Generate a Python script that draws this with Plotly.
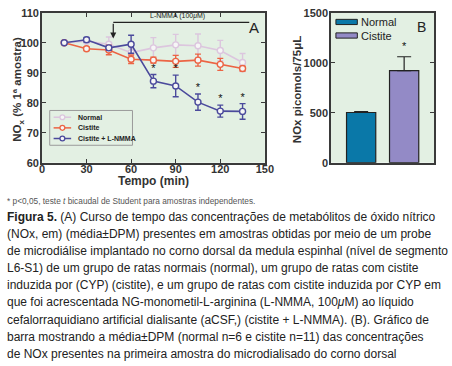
import plotly.graph_objects as go

W, H = 452, 366

# ---------------- data ----------------
tempo = [15, 30, 45, 60, 75, 90, 105, 120, 135]
normal = [100.0, 100.5, 99.5, 96.7, 98.3, 99.3, 99.0, 97.4, 93.4]
normal_err = [0, 0.5, 2.4, 1.5, 3.4, 3.5, 3.9, 3.4, 3.0]
cistite = [100.0, 98.0, 97.6, 94.5, 94.2, 93.8, 94.2, 92.8, 91.4]
cistite_err = [0, 0.6, 1.6, 1.4, 1.0, 2.0, 2.0, 2.0, 0.8]
lnmma = [100.0, 101.0, 98.3, 99.5, 87.2, 85.6, 80.2, 77.2, 77.1]
lnmma_err = [0, 0.8, 0.8, 3.0, 2.2, 3.6, 2.7, 2.0, 2.6]
sig_times = [75, 90, 105, 120, 135]

bar_groups = ["Normal", "Cistite"]
bar_values = [502, 922]
bar_err = [8, 138]

series_names = ["Normal", "Cistite", "Cistite + L-NMMA"]
series_colors = ["#dcc6de", "#ec6444", "#4b4a9c"]
bar_colors = ["#0a78a8", "#938ac6"]

footnote = "* p<0,05, teste <i>t</i> bicaudal de Student para amostras independentes."
caption_lines = [
    "<b>Figura 5.</b> (A) Curso de tempo das concentrações de metabólitos de óxido nítrico",
    "(NOx, em) (média±DPM) presentes em amostras obtidas por meio de um probe",
    "de microdiálise implantado no corno dorsal da medula espinhal (nível de segmento",
    "L6-S1) de um grupo de ratas normais (normal), um grupo de ratas com cistite",
    "induzida por (CYP) (cistite), e um grupo de ratas com cistite induzida por CYP em",
    "que foi acrescentada NG-monometil-L-arginina (L-NMMA, 100<i>μ</i>M) ao líquido",
    "cefalorraquidiano artificial dialisante (aCSF,) (cistite + L-NMMA). (B). Gráfico de",
    "barra mostrando a média±DPM (normal n=6 e cistite n=11) das concentrações",
    "de NOx presentes na primeira amostra do microdialisado do corno dorsal",
]

# ---------------- helpers ----------------
def px(x):
    return x / W

def py(y):
    return 1 - y / H

BG = "#e3f0e3"
AX = "#3a3a3a"
TICKFONT = dict(family="Liberation Sans, Arial", size=11, color="#333", weight="bold")
CAPFONT = "Liberation Sans, Arial"

fig = go.Figure()

# ---------------- panel A ----------------
for name, vals, errs, col in zip(series_names, [normal, cistite, lnmma],
                                 [normal_err, cistite_err, lnmma_err], series_colors):
    fig.add_trace(go.Scatter(
        x=tempo, y=vals, name=name, mode="lines+markers",
        line=dict(color=col, width=1.6),
        marker=dict(symbol="circle", size=6, color="#f6f6f6", line=dict(color=col, width=1.4)),
        error_y=dict(type="data", array=errs, visible=True, color=col, thickness=1.4, width=3),
        xaxis="x", yaxis="y", showlegend=False,
    ))

sig_y = [lnmma[tempo.index(t)] + lnmma_err[tempo.index(t)] + 1.8 for t in sig_times]
fig.add_trace(go.Scatter(
    x=sig_times, y=sig_y, mode="text", text=["*"] * len(sig_times),
    textfont=dict(family="Liberation Sans", size=11, color="#111"),
    xaxis="x", yaxis="y", showlegend=False, hoverinfo="skip",
))

# ---------------- panel B ----------------
fig.add_trace(go.Bar(
    x=bar_groups, y=bar_values, width=0.68,
    marker=dict(color=bar_colors, line=dict(color="#222", width=1.2)),
    error_y=dict(type="data", array=bar_err, arrayminus=[0, 0], symmetric=False,
                 visible=True, color="#222", thickness=1.2, width=7),
    xaxis="x2", yaxis="y2", showlegend=False,
))
fig.add_trace(go.Scatter(
    x=[bar_groups[1]], y=[bar_values[1] + bar_err[1] + 90], mode="text", text=["*"],
    textfont=dict(family="Liberation Sans", size=11, color="#111"),
    xaxis="x2", yaxis="y2", showlegend=False, hoverinfo="skip",
))

ydom = [py(162), py(7)]
axis_common = dict(showline=True, linecolor=AX, linewidth=1.5, mirror="ticks",
                   ticks="inside", ticklen=4, tickwidth=1.3, tickcolor=AX,
                   showgrid=False, zeroline=False, tickfont=TICKFONT)

ax2 = {k: v for k, v in axis_common.items() if k != "ticks"}

fig.update_layout(
    width=W, height=H,
    margin=dict(l=0, r=0, t=0, b=0),
    paper_bgcolor="white", plot_bgcolor=BG,
    xaxis=dict(domain=[px(40), px(269)], range=[0, 150], tickvals=[0, 30, 60, 90, 120, 150],
               anchor="y", ticklabelstandoff=-5, **axis_common),
    yaxis=dict(domain=ydom, range=[60, 110], tickvals=[60, 70, 80, 90, 100, 110],
               anchor="x", ticklabelstandoff=-1, **axis_common),
    xaxis2=dict(domain=[px(337), px(443)], range=[-0.7, 1.7], showticklabels=False,
                anchor="y2", ticks="", **ax2),
    yaxis2=dict(domain=ydom, range=[0, 1500], tickvals=[0, 500, 1000, 1500],
                anchor="x2", ticklabelstandoff=-1, **axis_common),
)

shapes = []
ann = []

def txt(x, y, text, size, xanchor="center", color="#222", family="Liberation Sans", angle=0):
    return dict(xref="paper", yref="paper", x=px(x), y=py(y), text=text, showarrow=False,
                xanchor=xanchor, yanchor="middle", textangle=angle,
                font=dict(family=family, size=size, color=color))

# L-NMMA arrow annotation (panel A, data coords)
shapes.append(dict(type="line", xref="x", yref="y", x0=48, x1=139.5, y0=106.8, y1=106.8,
                   line=dict(color="#222", width=1.2)))
ann.append(dict(xref="x", yref="y", x=48, y=101.4, ax=48, ay=106.8, axref="x", ayref="y",
                showarrow=True, arrowhead=2, arrowsize=1, arrowwidth=1.2, arrowcolor="#222", text=""))
ann.append(dict(xref="x", yref="y", x=91, y=106.9, text="L-NMMA (100<i>μ</i>M)", showarrow=False,
                xanchor="center", yanchor="bottom", font=dict(family="Liberation Sans", size=7, color="#222")))
ann.append(txt(258, 22, "A", 15))
ann.append(txt(430, 22, "B", 14))

# Panel A manual legend
shapes.append(dict(type="rect", xref="paper", yref="paper", x0=px(48), x1=px(133), y0=py(144), y1=py(108),
                   line=dict(color="#9a9a9a", width=1), fillcolor=BG))
for i, (name, col) in enumerate(zip(series_names, series_colors)):
    yy = 115 + i * 11
    shapes.append(dict(type="line", xref="paper", yref="paper", x0=px(52), x1=px(70), y0=py(yy), y1=py(yy),
                       line=dict(color=col, width=1.5)))
    shapes.append(dict(type="circle", xref="paper", yref="paper", x0=px(58.5), x1=px(63.5),
                       y0=py(yy + 2.5), y1=py(yy - 2.5), line=dict(color=col, width=1.3), fillcolor="#f6f6f6"))
    ann.append(txt(75, yy, "<b>%s</b>" % name, 7, xanchor="left"))

# Panel B manual legend
for i, (name, col) in enumerate(zip(bar_groups, bar_colors)):
    yy = 16.5 + i * 14
    shapes.append(dict(type="rect", xref="paper", yref="paper", x0=px(342), x1=px(364),
                       y0=py(yy + 2.7), y1=py(yy - 2.7), line=dict(color="#222", width=1), fillcolor=col))
    ann.append(txt(366, yy, name, 11, xanchor="left"))

# Axis titles
ann.append(txt(155, 181, "<b>Tempo (min)</b>", 12, color="#333"))
ann.append(txt(16, 86, "<b>NO<sub>x</sub> (% 1ª amostra)</b>", 11.5, color="#333", angle=-90))
ann.append(txt(302, 86, "<b>NOx picomols/75μL</b>", 11.5, color="#333", angle=-90))

# Footnote and caption
ann.append(txt(2, 202, footnote, 8.3, xanchor="left", color="#555", family=CAPFONT))
for i, line in enumerate(caption_lines):
    ann.append(txt(2, 218 + i * 17.7, line, 12.0, xanchor="left", color="#222", family=CAPFONT))

fig.update_layout(shapes=shapes, annotations=ann)
fig.write_html("out.html", config={"displayModeBar": False},
               post_script="document.body.style.margin='0';document.body.style.overflow='hidden';")
